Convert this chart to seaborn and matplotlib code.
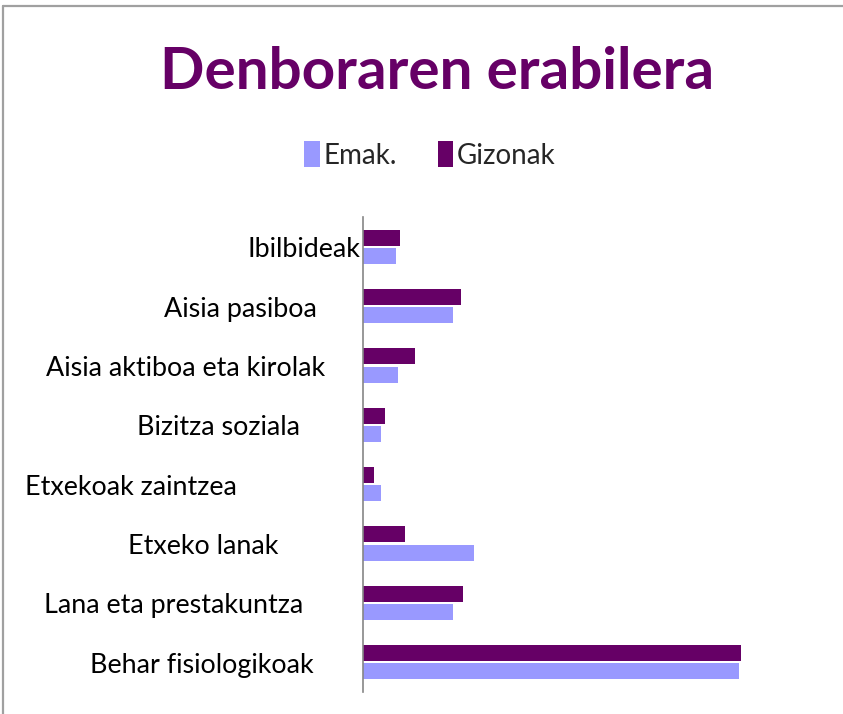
import matplotlib
matplotlib.use("Agg")
import matplotlib.pyplot as plt
from matplotlib.patches import Patch
from matplotlib.lines import Line2D
import pandas as pd
import seaborn as sns

# Daily time use by activity (hours per day)
categories = [
    "Ibilbideak",
    "Aisia pasiboa",
    "Aisia aktiboa eta kirolak",
    "Bizitza soziala",
    "Etxekoak zaintzea",
    "Etxeko lanak",
    "Lana eta prestakuntza",
    "Behar fisiologikoak",
]
emak = [1.03, 2.79, 1.09, 0.56, 0.56, 3.44, 2.79, 11.61]
gizonak = [1.15, 3.03, 1.61, 0.68, 0.35, 1.31, 3.10, 11.68]
series = ["Emak.", "Gizonak"]

# Right-edge offsets (pixels from the axis) of each category label
label_offsets = [2, 46, 38, 63, 126, 84, 59, 49]

colors = {"Emak.": "#9999FF", "Gizonak": "#660066"}
title_color = "#660066"

df = pd.DataFrame({
    "Jarduera": categories * 2,
    "Orduak": emak + gizonak,
    "Sexua": ["Emak."] * len(categories) + ["Gizonak"] * len(categories),
})

sns.set_style("white")
plt.rcParams["font.family"] = ["Lato", "DejaVu Sans"]

fig = plt.figure(figsize=(8.43, 7.14), dpi=100)
ax = fig.add_axes([0.4303, 0.031, 0.538, 0.665])

sns.barplot(
    data=df, y="Jarduera", x="Orduak", hue="Sexua",
    order=categories, hue_order=["Gizonak", "Emak."],
    palette=colors, orient="h", width=0.62, gap=0.13,
    saturation=1, errorbar=None, legend=False, ax=ax, linewidth=0,
)

ax.set_xlim(0, 14)
ax.set_ylim(7.5, -0.5)
ax.set_xlabel("")
ax.set_ylabel("")
ax.set_xticks([])
ax.set_yticks(range(len(categories)))
ax.set_yticklabels([])
ax.tick_params(left=False, bottom=False)
for s in ["top", "right", "bottom"]:
    ax.spines[s].set_visible(False)
ax.spines["left"].set_color("#868686")
ax.spines["left"].set_linewidth(1.2)

for i, (name, off) in enumerate(zip(categories, label_offsets)):
    ax.annotate(name, xy=(0, i), xycoords=ax.get_yaxis_transform(),
                xytext=(-off, -3), textcoords="offset pixels",
                ha="right", va="center", fontsize=19.4, color="black")

fig.text(0.518, 1 - 89 / 714, "Denboraren erabilera", ha="center",
         va="baseline", fontsize=42, fontweight="bold", color=title_color)

handles = [Patch(facecolor=colors[s], edgecolor="none", label=s) for s in series]
fig.legend(handles=handles, loc="center", bbox_to_anchor=(0.510, 0.783),
           ncol=2, frameon=False, fontsize=20, handlelength=0.55,
           handleheight=1.05, handletextpad=0.12, columnspacing=1.5)

# Chart area frame (top and left edges)
fig.add_artist(Line2D([0.004, 1.0], [0.992, 0.992], transform=fig.transFigure,
                      color="#a0a0a0", linewidth=1.6))
fig.add_artist(Line2D([0.004, 0.004], [0.0, 0.992], transform=fig.transFigure,
                      color="#a0a0a0", linewidth=1.6))

fig.savefig("out.png", dpi=100, facecolor="white")
